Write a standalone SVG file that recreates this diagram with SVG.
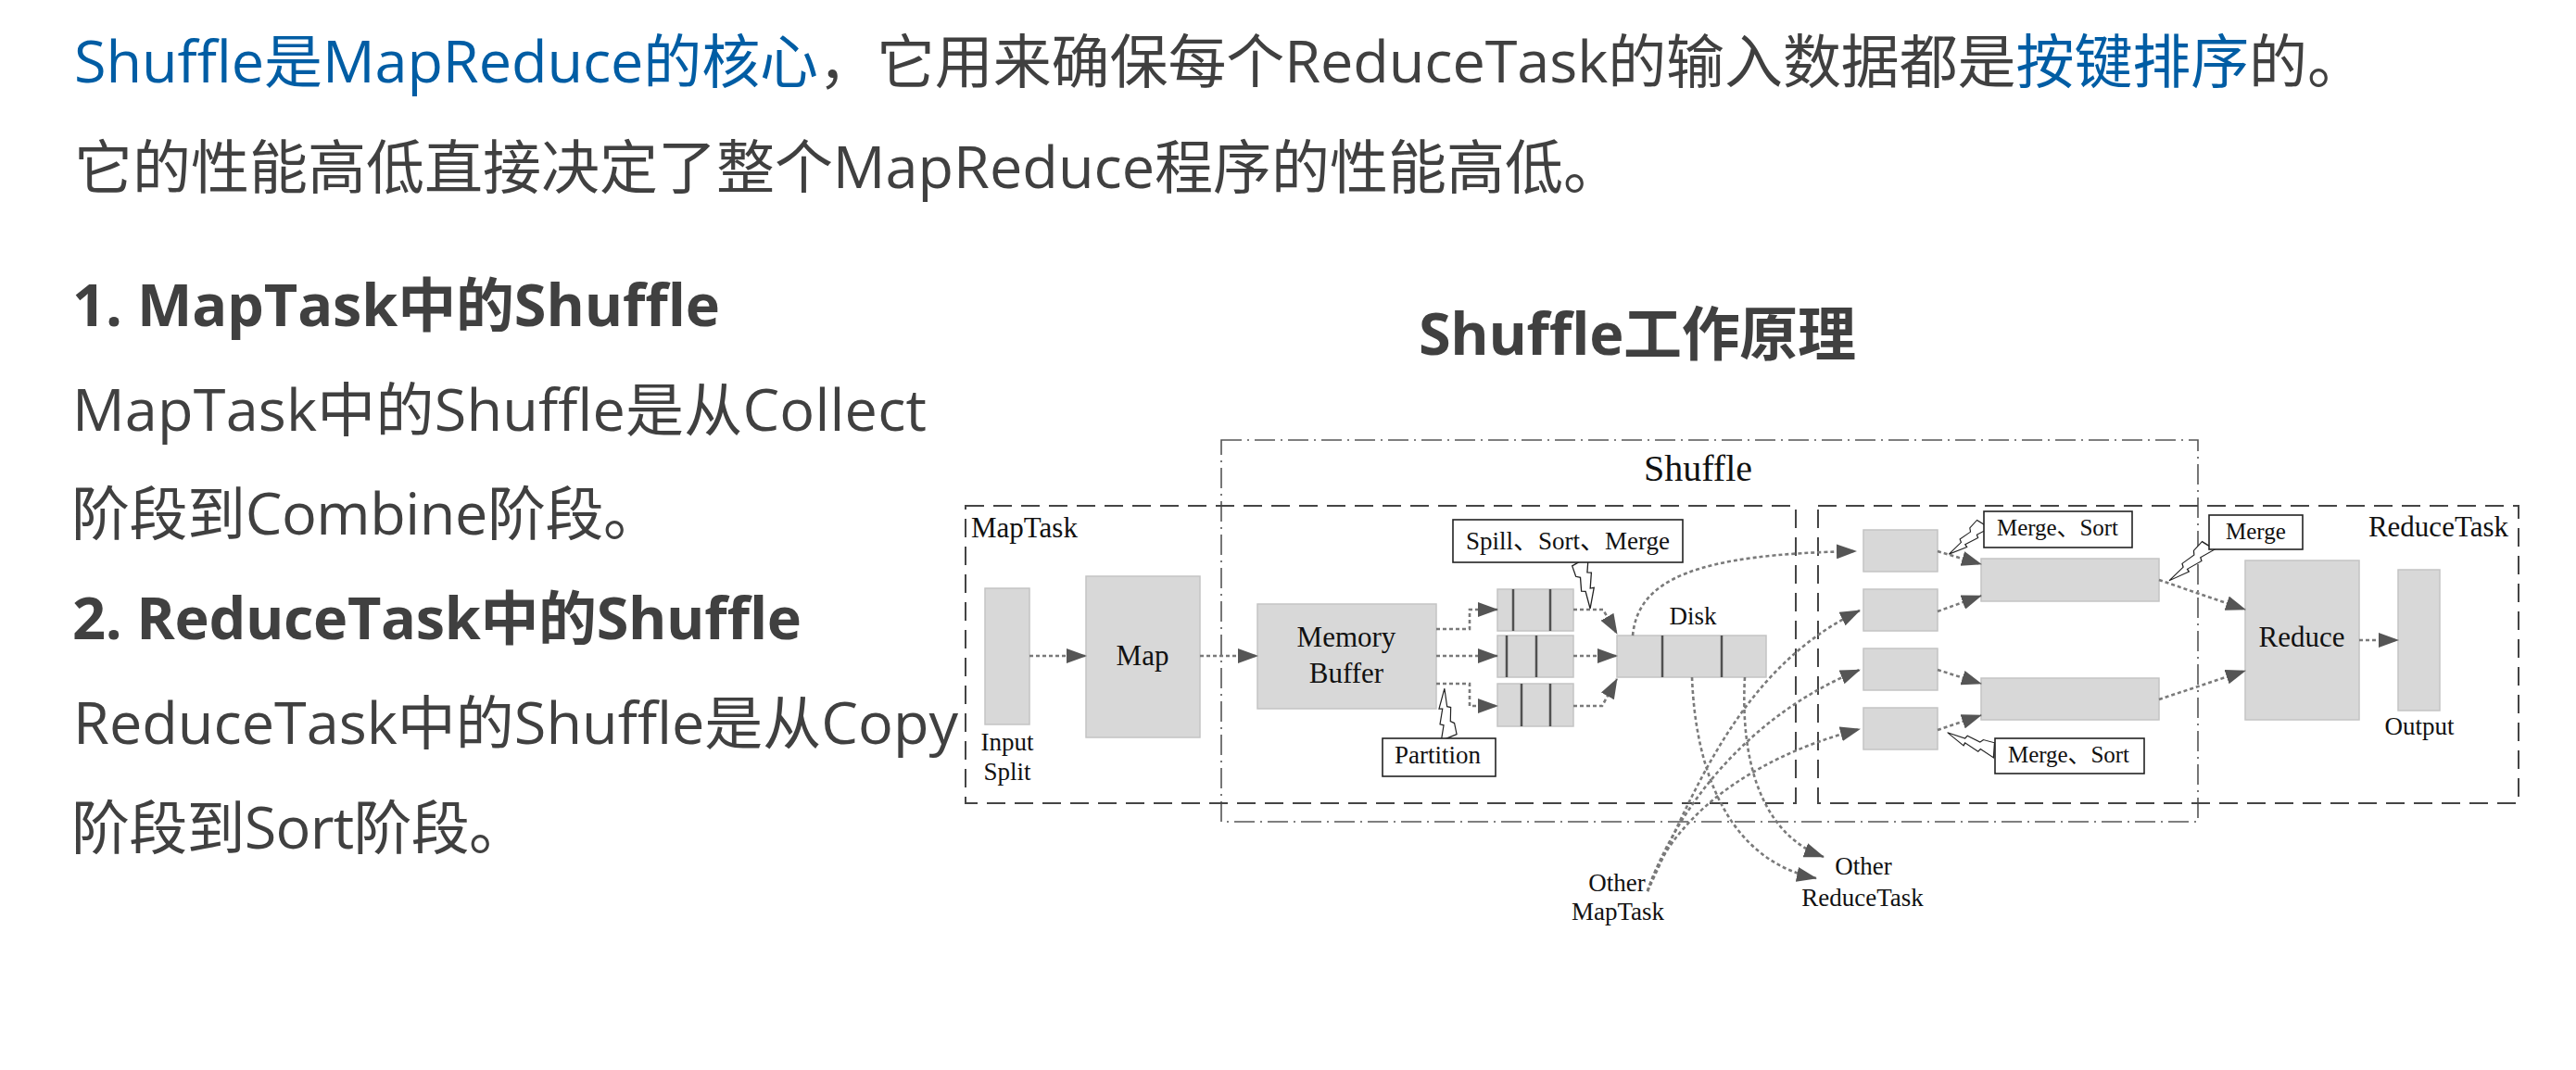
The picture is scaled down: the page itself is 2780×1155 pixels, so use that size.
<svg xmlns="http://www.w3.org/2000/svg" width="2780" height="1155" viewBox="0 0 2780 1155">
<defs>
<style>
.body{font-family:'Open Sans','Noto Sans CJK SC',sans-serif;font-size:63px;fill:#404040}
.bold{font-weight:bold}
.blue{fill:#005da4}
.d{font-family:'Liberation Serif','Noto Sans CJK SC',serif;fill:#111}
.f31{font-size:31px}.f27{font-size:27px}.f25{font-size:25px}.f40{font-size:40px}
.mid{text-anchor:middle}.end{text-anchor:end}
.task{fill:none;stroke:#454545;stroke-width:2;stroke-dasharray:20 10}
.shuf{fill:none;stroke:#555;stroke-width:1.6;stroke-dasharray:22 6 2 6}
.blk{fill:#d8d8d8;stroke:#c4c4c4;stroke-width:1.5}
.div{stroke:#505050;stroke-width:2.5}
.lbl{fill:#fff;stroke:#222;stroke-width:1.6}
.bolt{fill:#fff;stroke:#222;stroke-width:1.3}
.con{fill:none;stroke:#7a7a7a;stroke-width:2.6;stroke-dasharray:4 3;marker-end:url(#ah)}
</style>
<marker id="ah" markerUnits="userSpaceOnUse" viewBox="0 0 22 16" markerWidth="22" markerHeight="16" refX="21" refY="8" orient="auto"><path d="M0,0 L22,8 L0,16 z" fill="#555"/></marker>
<polygon id="boltShape" points="0,-10 15,-2 17,-6 32,2 33,-2 52,11 33,8 31,12 17,7 14,11 2,10"/>
</defs>
<rect width="2780" height="1155" fill="#fff"/>

<g id="intro">
<text class="body" x="80" y="89" textLength="2473" lengthAdjust="spacing"><tspan class="blue">Shuffle是MapReduce的核心</tspan>，它用来确保每个ReduceTask的输入数据都是<tspan class="blue">按键排序</tspan>的。</text>
<text class="body" x="80" y="203" textLength="1670" lengthAdjust="spacing">它的性能高低直接决定了整个MapReduce程序的性能高低。</text>
<text class="body bold" x="78" y="352" textLength="699" lengthAdjust="spacing">1. MapTask中的Shuffle</text>
<text class="body" x="78" y="465" textLength="922" lengthAdjust="spacing">MapTask中的Shuffle是从Collect</text>
<text class="body" x="77" y="577" textLength="637" lengthAdjust="spacing">阶段到Combine阶段。</text>
<text class="body bold" x="78" y="690" textLength="787" lengthAdjust="spacing">2. ReduceTask中的Shuffle</text>
<text class="body" x="79" y="803" textLength="955" lengthAdjust="spacing">ReduceTask中的Shuffle是从Copy</text>
<text class="body" x="77" y="916" textLength="492" lengthAdjust="spacing">阶段到Sort阶段。</text>
</g>

<g id="title">
<text class="body bold" x="1531" y="383" textLength="472" lengthAdjust="spacing">Shuffle工作原理</text>
</g>

<g id="containers">
<g id="shuffle-box"><rect class="shuf" x="1318" y="475" width="1054" height="412"/><text class="d f40" x="1774" y="519">Shuffle</text></g>
<g id="maptask-box"><rect class="task" x="1042" y="546" width="896" height="321"/><text class="d f31" x="1048" y="580">MapTask</text></g>
<g id="reducetask-box"><rect class="task" x="1962" y="546" width="756" height="321"/><text class="d f31 end" x="2707" y="579">ReduceTask</text></g>
</g>

<g id="input-split"><rect class="blk" x="1063" y="635" width="48" height="147"/><text class="d f27 mid" x="1087" y="810">Input</text><text class="d f27 mid" x="1087" y="842">Split</text></g>
<g id="map"><rect class="blk" x="1172" y="622" width="123" height="174"/><text class="d f31 mid" x="1233" y="718">Map</text></g>
<g id="memory-buffer"><rect class="blk" x="1357" y="652" width="193" height="113"/><text class="d f31 mid" x="1453" y="698">Memory</text><text class="d f31 mid" x="1453" y="737">Buffer</text></g>
<g id="spill-1"><rect class="blk" x="1616" y="636" width="82" height="45"/><line class="div" x1="1633" y1="636" x2="1633" y2="681"/><line class="div" x1="1673" y1="636" x2="1673" y2="681"/></g>
<g id="spill-2"><rect class="blk" x="1616" y="686" width="82" height="45"/><line class="div" x1="1626" y1="686" x2="1626" y2="731"/><line class="div" x1="1658" y1="686" x2="1658" y2="731"/></g>
<g id="spill-3"><rect class="blk" x="1616" y="738" width="82" height="46"/><line class="div" x1="1642" y1="738" x2="1642" y2="784"/><line class="div" x1="1673" y1="738" x2="1673" y2="784"/></g>
<g id="disk"><rect class="blk" x="1745" y="686" width="161" height="45"/><line class="div" x1="1794" y1="686" x2="1794" y2="731"/><line class="div" x1="1858" y1="686" x2="1858" y2="731"/><text class="d f27 mid" x="1827" y="674">Disk</text></g>
<g id="copy-1"><rect class="blk" x="2011" y="572" width="80" height="45"/></g>
<g id="copy-2"><rect class="blk" x="2011" y="636" width="80" height="45"/></g>
<g id="copy-3"><rect class="blk" x="2011" y="700" width="80" height="45"/></g>
<g id="copy-4"><rect class="blk" x="2011" y="764" width="80" height="45"/></g>
<g id="merge-1"><rect class="blk" x="2138" y="603" width="192" height="46"/></g>
<g id="merge-2"><rect class="blk" x="2138" y="732" width="192" height="45"/></g>
<g id="reduce"><rect class="blk" x="2423" y="605" width="123" height="172"/><text class="d f31 mid" x="2484" y="698">Reduce</text></g>
<g id="output"><rect class="blk" x="2588" y="615" width="45" height="152"/><text class="d f27 mid" x="2611" y="793">Output</text></g>
<g id="other-maptask"><text class="d f27 mid" x="1745" y="962">Other</text><text class="d f27 mid" x="1746" y="993">MapTask</text></g>
<g id="other-reducetask"><text class="d f27 mid" x="2011" y="944">Other</text><text class="d f27 mid" x="2010" y="978">ReduceTask</text></g>

<g id="connectors">
<path class="con" d="M1111,708 H1172"/>
<path class="con" d="M1295,708 H1357"/>
<path class="con" d="M1550,679 H1586 V658 H1616"/>
<path class="con" d="M1550,708 H1616"/>
<path class="con" d="M1550,738 H1586 V762 H1616"/>
<path class="con" d="M1698,658 H1730 L1745,684"/>
<path class="con" d="M1698,708 H1745"/>
<path class="con" d="M1698,762 H1729 L1745,733"/>
<path class="con" d="M1762,686 C1768,625 1830,598 2003,595"/>
<path class="con" d="M1826,731 C1830,840 1870,930 1960,948"/>
<path class="con" d="M1883,731 C1878,820 1900,900 1968,925"/>
<path class="con" d="M1778,962 C1830,850 1880,720 2007,659"/>
<path class="con" d="M1778,962 C1810,870 1890,770 2007,723"/>
<path class="con" d="M1778,962 C1800,890 1880,820 2007,787"/>
<path class="con" d="M2091,595 L2138,609"/>
<path class="con" d="M2091,660 L2138,643"/>
<path class="con" d="M2091,723 L2138,738"/>
<path class="con" d="M2091,788 L2138,772"/>
<path class="con" d="M2330,626 L2423,658"/>
<path class="con" d="M2330,755 L2423,724"/>
<path class="con" d="M2546,691 L2588,691"/>
</g>

<g id="callout-spill"><use href="#boltShape" class="bolt" transform="translate(1705,605) rotate(66)"/><rect class="lbl" x="1568" y="561" width="248" height="46"/><text class="d f27" x="1582" y="593" textLength="220" lengthAdjust="spacing">Spill、Sort、Merge</text></g>
<g id="callout-partition"><use href="#boltShape" class="bolt" transform="translate(1564,797) rotate(-106) scale(1.02,0.9)"/><rect class="lbl" x="1492" y="797" width="122" height="41"/><text class="d f27" x="1505" y="824">Partition</text></g>
<g id="callout-mergesort-1"><use href="#boltShape" class="bolt" transform="translate(2141,565) rotate(128.6) scale(0.95,0.8)"/><rect class="lbl" x="2141" y="552" width="160" height="39"/><text class="d f25" x="2155" y="578" textLength="131" lengthAdjust="spacing">Merge、Sort</text></g>
<g id="callout-mergesort-2"><use href="#boltShape" class="bolt" transform="translate(2153,810) rotate(-168.7) scale(1.04,0.8)"/><rect class="lbl" x="2153" y="797" width="161" height="38"/><text class="d f25" x="2167" y="823" textLength="131" lengthAdjust="spacing">Merge、Sort</text></g>
<g id="callout-merge"><use href="#boltShape" class="bolt" transform="translate(2384,588) rotate(129.2) scale(1.1,0.8)"/><rect class="lbl" x="2384" y="556" width="101" height="37"/><text class="d f25" x="2402" y="582">Merge</text></g>
</svg>
